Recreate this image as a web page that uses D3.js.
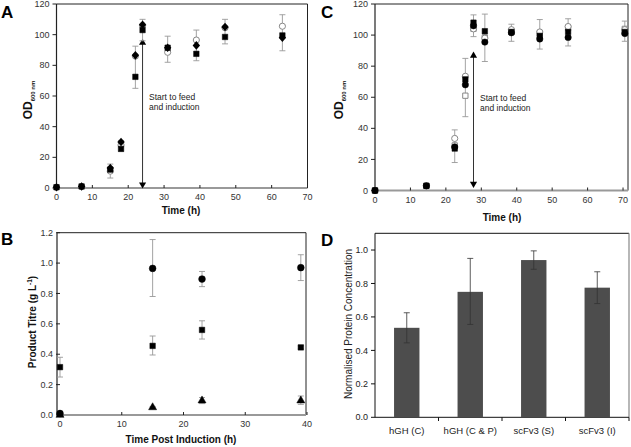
<!DOCTYPE html>
<html><head><meta charset="utf-8">
<script src="https://cdn.jsdelivr.net/npm/d3@7"></script>
<style>
body{margin:0;background:#fff;}
svg{display:block;}
text{font-family:"Liberation Sans",Arial,sans-serif;}
</style></head>
<body>
<svg id="chart" width="631" height="447"></svg>
<script>
// ---------- Panel A data ----------
const timeA = [0, 7, 15, 18, 22, 24, 31, 39, 47, 63];
const A_diamond = [0.5, 1, 13, 30, 86.5, 106.5, 91.5, 93, 105, 98];
const A_square  = [0.5, 1, 12, 25.5, 72.5, 103, 91.5, 87.5, 98.5, 99.5];
const A_circle  = [0.5, 1, 11, 28, 86, 106, 88.5, 96.5, 104.5, 105.5];
const A_errLo   = [0.5, 1, 6.5, 24, 65, 96, 82, 83, 94, 89.5];
const A_errHi   = [0.5, 1, 15.6, 31, 92.5, 110, 99, 103, 110, 113];
const A_xTicks = [0, 10, 20, 30, 40, 50, 60, 70];
const A_yTicks = [0, 20, 40, 60, 80, 100, 120];
const A_arrow = {t: 24, from: 96, to: 1};

// ---------- Panel C data ----------
const timeC = [0, 14.5, 22.5, 25.5, 27.8, 31, 38.5, 46.5, 54.5, 70.5];
const C_fsquare = [0, 3, 27, 71.5, 108, 102.5, 102, 99.5, 102, 102];
const C_fcircle = [0, 3, 28, 68, 106, 95.5, 101.5, 97.5, 98.5, 101];
const C_ocircle = [0, 3, 33.5, 73.5, 104, 98, 103.5, 102, 105.5, 103.5];
const C_osquare = [0, 3, 29, 61, 104, 98.5, 102.5, 101, 104.5, 104];
const C_errLo   = [0, 2, 18, 47.5, 99, 83, 96, 91, 93, 96];
const C_errHi   = [0, 4, 39, 85, 113, 113.5, 107, 110, 110.5, 109];
const C_xTicks = [0, 10, 20, 30, 40, 50, 60, 70];
const C_yTicks = [0, 20, 40, 60, 80, 100, 120];
const C_arrow = {t: 27.8, from: 88, to: 3};

// ---------- Panel B data ----------
const timeB = [0, 15, 23, 39];
const B_circle = [0.01, 0.965, 0.895, 0.97];
const B_circleLo = [0.005, 0.78, 0.845, 0.885];
const B_circleHi = [0.015, 1.155, 0.945, 1.055];
const B_square = [0.315, 0.455, 0.56, 0.445];
const B_squareLo = [0.25, 0.395, 0.5, 0.435];
const B_squareHi = [0.38, 0.52, 0.62, 0.455];
const B_triangle = [0.0, 0.05, 0.095, 0.095];
const B_triangleLo = [0.0, 0.045, 0.075, 0.07];
const B_triangleHi = [0.0, 0.055, 0.115, 0.125];
const B_xTicks = [0, 10, 20, 30, 40];
const B_yTicks = [0, 0.2, 0.4, 0.6, 0.8, 1.0, 1.2];

// ---------- Panel D data ----------
const D_categories = ["hGH (C)", "hGH (C & P)", "scFv3 (S)", "scFv3  (I)"];
const D_values = [0.535, 0.75, 0.94, 0.775];
const D_lo = [0.445, 0.555, 0.885, 0.68];
const D_hi = [0.625, 0.95, 0.995, 0.87];
const D_yTicks = [0, 0.2, 0.4, 0.6, 0.8, 1.0];

const svg = d3.select("#chart");
const DARK = "#222", GREY = "#999", ERR = "#999";

function frame(g, x0, x1, y0, y1) {
  g.append("line").attr("x1", x0).attr("x2", x1).attr("y1", y0).attr("y2", y0).attr("stroke", DARK).attr("stroke-width", 1);
  g.append("line").attr("x1", x0).attr("x2", x0).attr("y1", y0).attr("y2", y1).attr("stroke", DARK).attr("stroke-width", 1.2);
  g.append("line").attr("x1", x1).attr("x2", x1).attr("y1", y0).attr("y2", y1).attr("stroke", DARK).attr("stroke-width", 1);
  g.append("line").attr("x1", x0).attr("x2", x1).attr("y1", y1).attr("y2", y1).attr("stroke", GREY).attr("stroke-width", 2);
}

function axes(g, x, y, xTicks, yTicks, yFmt) {
  const [x0] = x.range();
  const y1 = y.range()[0];
  yTicks.forEach(v => {
    g.append("line").attr("x1", x0 - 4).attr("x2", x0).attr("y1", y(v)).attr("y2", y(v)).attr("stroke", DARK);
    g.append("text").attr("x", x0 - 7).attr("y", y(v)).attr("dy", "0.35em")
      .attr("text-anchor", "end").attr("font-size", 9).attr("fill", "#333").text(yFmt(v));
  });
  xTicks.forEach(v => {
    g.append("line").attr("x1", x(v)).attr("x2", x(v)).attr("y1", y1).attr("y2", y1 - 3).attr("stroke", DARK);
    g.append("text").attr("x", x(v)).attr("y", y1 + 12)
      .attr("text-anchor", "middle").attr("font-size", 9).attr("fill", "#333").text(v);
  });
}

function errBars(g, x, y, xs, lo, hi) {
  xs.forEach((t, i) => {
    if (hi[i] - lo[i] <= 0.0001) return;
    const cx = x(t);
    g.append("line").attr("x1", cx).attr("x2", cx).attr("y1", y(lo[i])).attr("y2", y(hi[i])).attr("stroke", ERR).attr("stroke-width", 0.9);
    [lo[i], hi[i]].forEach(v => g.append("line").attr("x1", cx - 3).attr("x2", cx + 3).attr("y1", y(v)).attr("y2", y(v)).attr("stroke", ERR).attr("stroke-width", 0.9));
  });
}

function markers(g, x, y, xs, vals, shape, filled, size) {
  const sym = d3.symbol().type(shape).size(size);
  g.selectAll(null).data(vals).enter().append("path")
    .attr("d", sym)
    .attr("transform", (d, i) => `translate(${x(xs[i])},${y(d)})`)
    .attr("fill", filled ? "#000" : "#fff")
    .attr("stroke", filled ? "#000" : "#888")
    .attr("stroke-width", filled ? 0.5 : 1);
}

function diamonds(g, x, y, xs, vals) {
  g.selectAll(null).data(vals).enter().append("path")
    .attr("d", "M0,-4.3L3.7,0L0,4.3L-3.7,0Z")
    .attr("transform", (d, i) => `translate(${x(xs[i])},${y(d)})`)
    .attr("fill", "#000");
}

function arrow(g, x, y, a, text, tx) {
  const cx = x(a.t);
  g.append("line").attr("x1", cx).attr("x2", cx).attr("y1", y(a.from)).attr("y2", y(a.to)).attr("stroke", "#333").attr("stroke-width", 1);
  g.append("path").attr("d", d3.symbol().type(d3.symbolTriangle).size(22))
    .attr("transform", `translate(${cx},${y(a.from) + 2})`).attr("fill", "#000");
  g.append("path").attr("d", d3.symbol().type(d3.symbolTriangle).size(22))
    .attr("transform", `translate(${cx},${y(a.to) - 2}) rotate(180)`).attr("fill", "#000");
  text.forEach((s, i) => g.append("text").attr("x", tx).attr("y", y(60) + 4 + i * 10)
    .attr("font-size", 8.5).attr("fill", "#222").text(s));
}

function odLabel(g, x, y) {
  const t = g.append("text").attr("transform", `translate(${x},${y}) rotate(-90)`)
    .attr("text-anchor", "middle").attr("font-size", 12).attr("font-weight", "bold").attr("fill", "#111");
  t.append("tspan").text("OD");
  t.append("tspan").attr("font-size", 6).attr("dy", 3).text("600 nm");
}

function letter(x, y, s) {
  svg.append("text").attr("x", x).attr("y", y).attr("font-size", 17).attr("font-weight", "bold")
    .attr("fill", "#000").text(s);
}

// ================= Panel A =================
{
  const g = svg.append("g");
  const x = d3.scaleLinear().domain([0, 70]).range([56.5, 307.5]);
  const y = d3.scaleLinear().domain([0, 120]).range([188, 4]);
  frame(g, 56.5, 307.5, 4, 188);
  axes(g, x, y, A_xTicks, A_yTicks, d => d);
  arrow(g, x, y, A_arrow, ["Start to feed", "and induction"], 149);
  errBars(g, x, y, timeA, A_errLo, A_errHi);
  markers(g, x, y, timeA, A_circle, d3.symbolCircle, false, 30);
  markers(g, x, y, timeA, A_square, d3.symbolSquare, true, 30);
  diamonds(g, x, y, timeA, A_diamond);
  odLabel(g, 32, 100);
  g.append("text").attr("x", 181).attr("y", 214).attr("text-anchor", "middle").attr("font-size", 10)
    .attr("font-weight", "bold").attr("fill", "#111").text("Time (h)");
  letter(1, 18, "A");
}

// ================= Panel C =================
{
  const g = svg.append("g");
  const x = d3.scaleLinear().domain([0, 71.4]).range([375, 628]);
  const y = d3.scaleLinear().domain([0, 120]).range([190.5, 4]);
  frame(g, 375, 628, 4, 190.5);
  axes(g, x, y, C_xTicks, C_yTicks, d => d);
  arrow(g, x, y, C_arrow, ["Start to feed", "and induction"], 480);
  errBars(g, x, y, timeC, C_errLo, C_errHi);
  markers(g, x, y, timeC, C_osquare, d3.symbolSquare, false, 28);
  markers(g, x, y, timeC, C_ocircle, d3.symbolCircle, false, 30);
  markers(g, x, y, timeC, C_fcircle, d3.symbolCircle, true, 32);
  markers(g, x, y, timeC, C_fsquare, d3.symbolSquare, true, 30);
  odLabel(g, 343, 100);
  g.append("text").attr("x", 502).attr("y", 221).attr("text-anchor", "middle").attr("font-size", 10)
    .attr("font-weight", "bold").attr("fill", "#111").text("Time (h)");
  letter(321, 18, "C");
}

// ================= Panel B =================
{
  const g = svg.append("g");
  const x = d3.scaleLinear().domain([0, 40]).range([60, 307]);
  const y = d3.scaleLinear().domain([0, 1.2]).range([415, 232.7]);
  frame(g, 57, 306, 232.7, 415);
  axes(g, x, y, B_xTicks, B_yTicks, d3.format(".1f"));
  errBars(g, x, y, timeB, B_circleLo, B_circleHi);
  errBars(g, x, y, timeB, B_squareLo, B_squareHi);
  errBars(g, x, y, timeB, B_triangleLo, B_triangleHi);
  markers(g, x, y, timeB, B_square, d3.symbolSquare, true, 30);
  markers(g, x, y, timeB, B_triangle, d3.symbolTriangle, true, 28);
  markers(g, x, y, timeB, B_circle, d3.symbolCircle, true, 36);
  const t = g.append("text").attr("transform", "translate(36,322) rotate(-90)")
    .attr("text-anchor", "middle").attr("font-size", 10).attr("font-weight", "bold").attr("fill", "#111");
  t.append("tspan").text("Product Titre (g L");
  t.append("tspan").attr("font-size", 6.5).attr("dy", -4).text("-1");
  t.append("tspan").attr("dy", 4).text(")");
  g.append("text").attr("x", 181).attr("y", 443).attr("text-anchor", "middle").attr("font-size", 10)
    .attr("font-weight", "bold").attr("fill", "#111").text("Time Post Induction (h)");
  letter(1, 245, "B");
}

// ================= Panel D =================
{
  const g = svg.append("g");
  const x = d3.scaleBand().domain(D_categories).range([375, 629]).paddingInner(0.6).paddingOuter(0.3);
  const y = d3.scaleLinear().domain([0, 1.1]).range([417.3, 233.3]);
  const narrow = "'Liberation Sans Narrow','Open Sans',sans-serif";
  g.append("line").attr("x1", 375).attr("x2", 629).attr("y1", 233.3).attr("y2", 233.3).attr("stroke", "#111");
  g.append("line").attr("x1", 629).attr("x2", 629).attr("y1", 233.3).attr("y2", 417.3).attr("stroke", "#888").attr("stroke-width", 1.2);
  g.append("line").attr("x1", 375).attr("x2", 375).attr("y1", 233.3).attr("y2", 417.3).attr("stroke", "#111");
  g.append("line").attr("x1", 375).attr("x2", 629).attr("y1", 417.3).attr("y2", 417.3).attr("stroke", "#111");
  D_yTicks.forEach(v => {
    g.append("line").attr("x1", 371).attr("x2", 375).attr("y1", y(v)).attr("y2", y(v)).attr("stroke", "#111");
    g.append("text").attr("x", 368).attr("y", y(v)).attr("dy", "0.35em").attr("text-anchor", "end")
      .attr("font-size", 9).attr("font-family", narrow).attr("fill", "#222")
      .text(d3.format(".1f")(v));
  });
  D_categories.forEach((c, i) => {
    const tx = 375 + (629 - 375) / 4 * (i + 1);
    g.append("line").attr("x1", tx).attr("x2", tx).attr("y1", 417.3).attr("y2", 421).attr("stroke", "#111");
  });
  g.selectAll(null).data(D_values).enter().append("rect")
    .attr("x", (d, i) => x(D_categories[i])).attr("width", x.bandwidth())
    .attr("y", d => y(d)).attr("height", d => y(0) - y(d)).attr("fill", "#4d4d4d");
  D_values.forEach((d, i) => {
    const cx = x(D_categories[i]) + x.bandwidth() / 2;
    g.append("line").attr("x1", cx).attr("x2", cx).attr("y1", y(D_lo[i])).attr("y2", y(D_hi[i])).attr("stroke", "#333").attr("stroke-width", 0.8);
    [D_lo[i], D_hi[i]].forEach(v => g.append("line").attr("x1", cx - 3).attr("x2", cx + 3).attr("y1", y(v)).attr("y2", y(v)).attr("stroke", "#333").attr("stroke-width", 0.8));
    g.append("text").attr("x", cx).attr("y", 434).attr("text-anchor", "middle").attr("font-size", 9.5)
      .attr("font-family", narrow).attr("fill", "#222").text(D_categories[i]);
  });
  g.append("text").attr("transform", "translate(352,324) rotate(-90)").attr("text-anchor", "middle")
    .attr("font-size", 10).attr("font-family", narrow).attr("fill", "#222")
    .text("Normalised Protein Concentration");
  letter(321, 246, "D");
}
</script>
</body></html>
